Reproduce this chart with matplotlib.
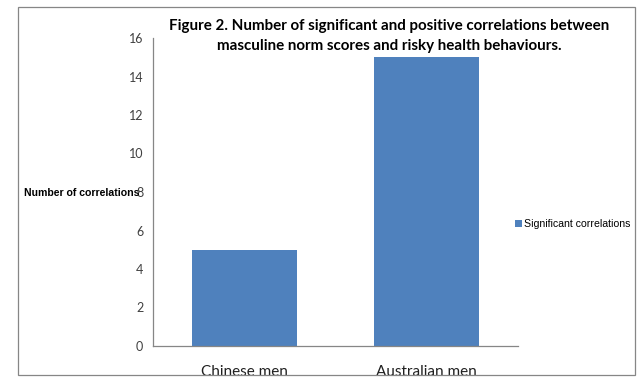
import matplotlib
matplotlib.use("Agg")
import matplotlib.pyplot as plt
from matplotlib.patches import Rectangle

groups = ["Chinese men", "Australian men"]
sig_corr = [5, 15]
yticks = [0, 2, 4, 6, 8, 10, 12, 14, 16]
title = ("Figure 2. Number of significant and positive correlations between\n"
         "masculine norm scores and risky health behaviours.")

W, H = 642, 378
fig = plt.figure(figsize=(W / 100, H / 100), dpi=100)
fig.patch.set_facecolor("white")

# outer chart frame
fig.patches.append(Rectangle((18 / W, 3 / H), 617 / W, 368 / H, transform=fig.transFigure,
                             fill=False, edgecolor="#868686", linewidth=0.9, zorder=5))

ax = fig.add_axes([153 / W, (H - 346) / H, 365 / W, (346 - 38) / H])
x = range(len(groups))
bars = ax.bar(x, sig_corr, width=0.575, color="#4F81BD", label="Significant correlations")
ax.set_xlim(-0.5, 1.5)
ax.set_ylim(0, 16)
ax.set_yticks(yticks)
ax.set_yticklabels([str(t) for t in yticks], fontsize=9, family="Lato", color="#404040")
ax.set_xticks(list(x))
ax.set_xticklabels(groups, fontsize=11, family="Lato", color="#202020")
ax.tick_params(axis="y", length=0, pad=7)
ax.tick_params(axis="x", length=0, pad=14)
for s in ["top", "right"]:
    ax.spines[s].set_visible(False)
for s in ["left", "bottom"]:
    ax.spines[s].set_color("#868686")
    ax.spines[s].set_linewidth(0.9)

fig.text(24 / W, 1 - 193 / H, "Number of correlations", fontsize=7.6, fontweight="bold",
         family="Liberation Sans", va="center", ha="left")
fig.text(389 / W, 1 - 36 / H, title, fontsize=10.9, fontweight="bold", family="Lato",
         ha="center", va="center", linespacing=1.5)

fig.legend(handles=[bars], loc="center left", bbox_to_anchor=(505 / W, 1 - 224 / H),
           frameon=False, handlelength=0.7, handleheight=0.7, handletextpad=0.2,
           prop={"family": "Liberation Sans", "size": 7.6})

fig.savefig("out.png", dpi=100)
